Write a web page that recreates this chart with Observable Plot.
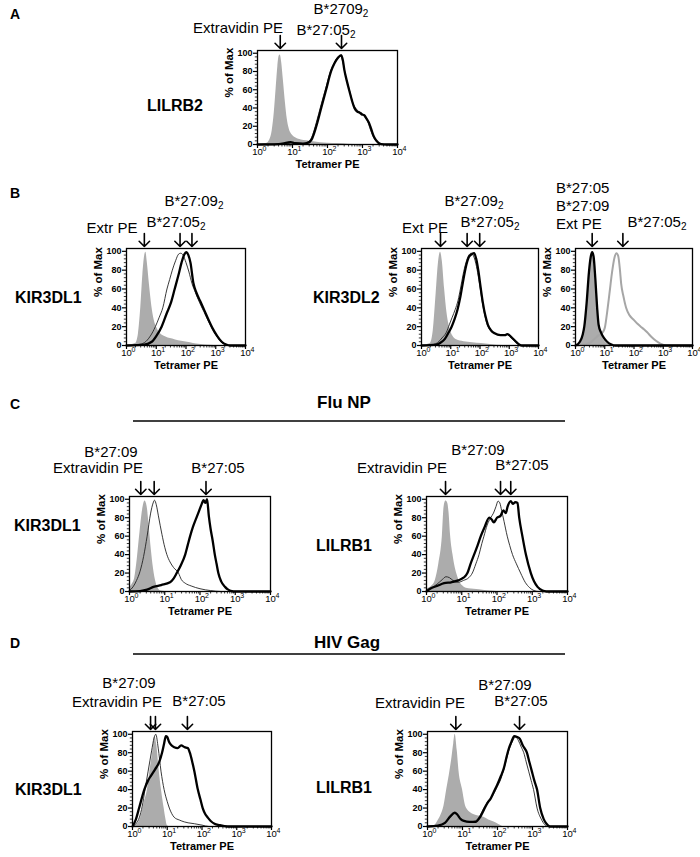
<!DOCTYPE html>
<html><head><meta charset="utf-8">
<script src="https://cdn.jsdelivr.net/npm/d3@7"></script>
<script src="https://cdn.jsdelivr.net/npm/@observablehq/plot@0.6"></script>
<style>
body{margin:0;background:#fff;}
#root{position:relative;width:700px;height:857px;overflow:hidden;background:#fff;font-family:"Liberation Sans",Arial,Helvetica,sans-serif;}
#root svg{position:absolute;}
</style></head><body><div id="root"></div>
<script>
// ---------- axis ticks ----------
const xTickValues = [1, 10, 100, 1000, 10000];
const xTickBase = "10";
const xTickExponents = ["0", "1", "2", "3", "4"];
const yTickValues = [0, 20, 40, 60, 80, 100];

// ---------- histogram data: [log10(Tetramer PE), % of Max] ----------
// Panel A — LILRB2
const A_grey = [[0,0],[0.25,1],[0.35,5],[0.42,15],[0.48,35],[0.53,60],[0.58,85],[0.62,97],[0.65,98],[0.69,90],[0.74,70],[0.8,45],[0.85,28],[0.9,18],[1.0,10],[1.1,7],[1.25,5],[1.4,4],[1.6,3],[1.8,2],[2.0,1.5],[2.3,1],[2.6,0.3],[3.0,0],[4,0]];
const A_thick = [[0,0],[0.6,0.5],[0.85,2],[0.95,2.5],[1.05,1.5],[1.3,1],[1.45,2],[1.54,5],[1.68,20],[1.82,40],[1.96,60],[2.1,80],[2.2,89],[2.3,95],[2.39,98],[2.44,92],[2.48,82],[2.55,70],[2.63,58],[2.7,48],[2.77,40],[2.85,36],[2.91,35],[2.98,33],[3.05,32],[3.12,28],[3.18,24],[3.24,18],[3.31,10],[3.38,5],[3.45,2],[3.53,0.5],[3.7,0],[4,0]];
const A_thin = [[0,0],[0.8,1],[1.0,2],[1.3,1],[1.45,3],[1.55,8],[1.68,24],[1.82,44],[1.96,63],[2.1,82],[2.2,90],[2.3,96],[2.37,97],[2.44,90],[2.5,78],[2.58,66],[2.65,56],[2.72,46],[2.8,40],[2.9,36],[3.0,34],[3.07,30],[3.15,25],[3.22,17],[3.3,9],[3.38,4],[3.46,1],[3.6,0],[4,0]];
const A_arrows = [0.65, 2.4];

// Panel B — KIR3DL1
const B1_grey = [[0,0],[0.3,2],[0.4,12],[0.48,40],[0.55,75],[0.61,95],[0.65,99],[0.7,88],[0.77,65],[0.85,42],[0.93,27],[1.03,18],[1.13,13],[1.25,10],[1.4,8],[1.55,7],[1.75,5],[1.95,4],[2.15,3],[2.35,1.5],[2.65,0.5],[2.95,0],[4,0]];
const B1_thin = [[0,0],[0.4,1],[0.6,3],[0.8,10],[0.97,20],[1.1,30],[1.22,40],[1.36,60],[1.45,70],[1.54,80],[1.65,90],[1.75,97],[1.82,98],[1.9,96],[2.0,88],[2.1,78],[2.2,66],[2.32,56],[2.45,46],[2.6,36],[2.75,26],[2.88,18],[3.05,9],[3.2,3],[3.35,1],[3.5,0],[4,0]];
const B1_thick = [[0,0],[0.6,1],[0.85,4],[1.0,10],[1.18,20],[1.35,34],[1.5,46],[1.62,60],[1.74,74],[1.85,88],[1.95,97],[2.02,99],[2.08,96],[2.15,88],[2.25,66],[2.35,56],[2.48,47],[2.62,37],[2.76,27],[2.88,19],[3.05,10],[3.2,4],[3.35,1],[3.5,0],[4,0]];
const B1_arrows = [0.6, 1.8, 2.2];

// Panel B — KIR3DL2
const B2_grey = [[0,0],[0.3,2],[0.4,15],[0.5,55],[0.58,88],[0.65,99],[0.71,90],[0.79,60],[0.87,35],[0.97,18],[1.07,10],[1.2,6],[1.45,4],[1.75,3],[2.05,2],[2.35,1],[2.8,0],[4,0]];
const B2_thin = [[0,0],[0.4,1],[0.55,3],[0.7,8],[0.85,14],[0.95,22],[1.05,30],[1.15,38],[1.25,48],[1.33,60],[1.42,75],[1.52,88],[1.62,96],[1.7,98],[1.78,95],[1.88,84],[1.96,70],[2.02,58],[2.1,42],[2.18,30],[2.25,22],[2.36,16],[2.5,13],[2.7,11],[2.85,11],[2.93,12],[3.0,10],[3.1,7],[3.2,4],[3.3,1.5],[3.4,0],[4,0]];
const B2_thick = [[0,0],[0.5,1],[0.65,3],[0.8,7],[0.93,14],[1.03,20],[1.13,28],[1.23,38],[1.33,52],[1.42,68],[1.52,84],[1.62,94],[1.72,97],[1.8,98],[1.87,92],[1.95,78],[2.02,62],[2.1,45],[2.18,32],[2.27,22],[2.38,16],[2.5,13],[2.7,11],[2.85,11],[2.93,12],[3.0,11],[3.1,8],[3.2,5],[3.3,2],[3.42,0],[4,0]];
const B2_arrows = [0.65, 1.56, 1.99];

// Panel B — KIR3DL2, monomers (black) vs B*27:05 dimer (grey line)
const B3_grey = [[0,0],[0.15,2],[0.25,8],[0.35,30],[0.45,70],[0.53,95],[0.57,98],[0.63,88],[0.7,60],[0.77,32],[0.85,15],[0.95,7],[1.05,3],[1.2,1],[1.4,0],[4,0]];
const B3_black = [[0,0],[0.15,4],[0.25,12],[0.3,20],[0.38,45],[0.46,78],[0.52,94],[0.57,99],[0.62,94],[0.68,70],[0.74,40],[0.79,22],[0.87,14],[0.97,8],[1.08,4],[1.23,1],[1.35,0],[4,0]];
const B3_dimer = [[0,0],[0.3,1],[0.5,3],[0.65,7],[0.8,11],[0.9,13],[0.97,16],[1.01,20],[1.08,35],[1.16,55],[1.25,78],[1.33,93],[1.4,98],[1.46,95],[1.52,80],[1.56,66],[1.64,52],[1.73,40],[1.85,32],[2.0,27],[2.12,23],[2.23,20],[2.35,17],[2.45,14],[2.6,9],[2.75,5],[2.9,2],[3.1,0],[4,0]];
const B3_arrows = [0.57, 1.62];

// Panel C — Flu NP, KIR3DL1
const C1_grey = [[0,4],[0.08,8],[0.15,15],[0.22,35],[0.3,65],[0.37,88],[0.44,98],[0.5,92],[0.56,70],[0.62,45],[0.68,25],[0.75,10],[0.82,3],[0.9,0.5],[1.0,0],[4,0]];
const C1_thin = [[0,1],[0.1,5],[0.2,12],[0.3,22],[0.4,38],[0.5,60],[0.6,85],[0.67,96],[0.71,99],[0.76,94],[0.82,82],[0.92,62],[1.0,48],[1.06,40],[1.15,32],[1.25,26],[1.39,20],[1.47,13],[1.58,9],[1.75,6],[2.0,3],[2.3,1],[2.6,0],[4,0]];
const C1_thick = [[0,0],[0.3,0.5],[0.5,2],[0.68,5],[0.9,7],[1.15,10],[1.25,14],[1.34,20],[1.45,28],[1.58,40],[1.65,50],[1.72,60],[1.8,70],[1.9,80],[1.98,88],[2.05,95],[2.1,99],[2.15,96],[2.2,100],[2.25,82],[2.3,68],[2.36,55],[2.42,40],[2.47,30],[2.52,20],[2.6,11],[2.71,5],[2.8,2],[2.9,0.5],[3.0,0],[4,0]];
const C1_arrows = [0.32, 0.7, 2.17];

// Panel C — Flu NP, LILRB1
const C2_grey = [[0,3],[0.15,6],[0.25,12],[0.35,30],[0.45,60],[0.5,92],[0.55,98],[0.6,96],[0.64,85],[0.68,62],[0.75,40],[0.82,25],[0.87,18],[0.95,10],[1.06,5],[1.2,3],[1.5,2],[1.8,0.5],[2.0,0],[4,0]];
const C2_thin = [[0,0],[0.15,4],[0.3,8],[0.45,13],[0.55,16],[0.65,15],[0.75,12],[0.9,10],[1.05,12],[1.2,15],[1.3,20],[1.4,30],[1.49,40],[1.57,52],[1.63,60],[1.72,72],[1.82,80],[1.9,85],[1.97,92],[2.03,98],[2.08,96],[2.13,88],[2.2,76],[2.29,60],[2.36,50],[2.44,40],[2.55,30],[2.67,20],[2.8,10],[2.93,4],[3.05,1],[3.2,0],[4,0]];
const C2_thick = [[0,0],[0.1,3],[0.3,6],[0.5,9],[0.7,10],[0.9,12],[1.05,15],[1.16,20],[1.25,30],[1.35,40],[1.45,50],[1.54,60],[1.65,70],[1.78,80],[1.85,78],[1.91,75],[2.0,80],[2.1,82],[2.18,88],[2.25,85],[2.3,92],[2.39,98],[2.45,95],[2.52,97],[2.58,96],[2.63,80],[2.72,60],[2.82,40],[2.96,20],[3.05,11],[3.15,5],[3.29,1],[3.4,0],[4,0]];
const C2_arrows = [0.54, 2.1, 2.39];

// Panel D — HIV Gag, KIR3DL1
const D1_grey = [[0,0],[0.15,3],[0.24,10],[0.33,25],[0.43,40],[0.5,60],[0.58,80],[0.64,98],[0.7,88],[0.77,60],[0.84,38],[0.91,20],[0.96,8],[1.0,1],[1.05,0],[4,0]];
const D1_thin = [[0,0],[0.1,3],[0.2,10],[0.28,22],[0.36,40],[0.45,60],[0.55,82],[0.62,96],[0.67,100],[0.74,85],[0.82,60],[0.91,40],[1.0,27],[1.06,20],[1.2,10],[1.35,7],[1.49,5],[1.6,4],[1.78,3],[2.0,1.5],[2.2,0],[4,0]];
const D1_thick = [[0,0],[0.1,8],[0.19,20],[0.34,40],[0.45,50],[0.53,55],[0.65,62],[0.77,70],[0.85,80],[0.91,90],[0.96,98],[1.0,97],[1.05,92],[1.12,88],[1.2,86],[1.3,85],[1.4,88],[1.5,86],[1.59,85],[1.65,80],[1.72,70],[1.78,60],[1.88,40],[1.95,30],[2.02,20],[2.1,13],[2.16,10],[2.25,6],[2.36,3],[2.5,1.5],[2.74,0],[4,0]];
const D1_arrows = [0.52, 0.66, 1.58];

// Panel D — HIV Gag, LILRB1
const D2_grey = [[0,0],[0.2,1],[0.28,5],[0.38,12],[0.47,22],[0.55,40],[0.62,55],[0.7,75],[0.75,90],[0.79,100],[0.85,82],[0.9,60],[1.0,40],[1.09,22],[1.23,15],[1.4,12],[1.61,10],[1.75,7],[1.9,5],[2.05,2],[2.18,0],[4,0]];
const D2_thin = [[0,0],[0.3,1],[0.5,4],[0.65,10],[0.78,14],[0.85,13],[0.95,8],[1.04,6],[1.2,5],[1.37,6],[1.5,12],[1.61,20],[1.72,27],[1.8,30],[1.9,36],[1.99,43],[2.1,52],[2.18,62],[2.25,72],[2.32,82],[2.4,90],[2.46,95],[2.52,97],[2.6,93],[2.68,86],[2.75,80],[2.82,70],[2.89,60],[2.96,50],[3.03,40],[3.13,20],[3.25,8],[3.35,2],[3.45,0],[4,0]];
const D2_thick = [[0,0],[0.3,1],[0.5,4],[0.65,11],[0.78,15],[0.85,13],[0.95,8],[1.04,6],[1.2,5],[1.37,5],[1.5,10],[1.61,18],[1.72,26],[1.8,30],[1.9,38],[1.99,45],[2.1,55],[2.18,63],[2.25,74],[2.32,84],[2.4,92],[2.48,98],[2.56,97],[2.64,95],[2.72,88],[2.84,80],[2.91,70],[2.98,60],[3.05,50],[3.13,40],[3.22,20],[3.32,8],[3.4,3],[3.5,0],[4,0]];
const D2_arrows = [0.81, 2.63];

// ---------- text ----------
const panelLetters = [["A",10,19],["B",10,198],["C",10,409],["D",10,648]];
const receptorNames = [["LILRB2",147,111],["KIR3DL1",15,303],["KIR3DL2",313,303],["KIR3DL1",14,531],["LILRB1",316,551],["KIR3DL1",15,795],["LILRB1",316,793]];
const sectionTitles = [["Flu NP",344,408,421],["HIV Gag",347,648,654]];
// [text, subscript, x, baseline, anchor]
const arrowLabels = [
  ["B*2709","2",341,14,"middle"],["Extravidin PE","",238,33,"middle"],["B*27:05","2",326,35,"middle"],
  ["B*27:09","2",194,206,"middle"],["Extr PE","",112,233,"middle"],["B*27:05","2",176,227,"middle"],
  ["B*27:09","2",474,206,"middle"],["Ext PE","",425,233,"middle"],["B*27:05","2",490,227,"middle"],
  ["B*27:05","",556,193,"start"],["B*27:09","",556,211,"start"],["Ext PE","",556,229,"start"],["B*27:05","2",657,227,"middle"],
  ["B*27:09","",111,457,"middle"],["Extravidin PE","",98,473,"middle"],["B*27:05","",218,473,"middle"],
  ["B*27:09","",478,455,"middle"],["Extravidin PE","",402,473,"middle"],["B*27:05","",522,470,"middle"],
  ["B*27:09","",129,688,"middle"],["Extravidin PE","",117,707,"middle"],["B*27:05","",199,706,"middle"],
  ["B*27:09","",505,690,"middle"],["Extravidin PE","",420,708,"middle"],["B*27:05","",521,706,"middle"]
];

// ---------- styles ----------
const FILL = "#acacac", BLACK = "#000", THIN = "#222", LIGHT = "#a6a6a6";
const FONT = "'Liberation Sans', Arial, Helvetica, sans-serif";
const thick = d => ({data: d, color: BLACK, width: 2.3});
const thin = d => ({data: d, color: THIN, width: 0.9});

const panels = [
  {frame: [257, 397, 50, 144], fills: [A_grey], lines: [thin(A_thin), thick(A_thick)], arrows: A_arrows},
  {frame: [126, 245, 248, 345], fills: [B1_grey], lines: [thin(B1_thin), thick(B1_thick)], arrows: B1_arrows},
  {frame: [421, 538, 248, 345], fills: [B2_grey], lines: [thin(B2_thin), thick(B2_thick)], arrows: B2_arrows},
  {frame: [575, 692, 248, 345], fills: [B3_grey], lines: [{data: B3_dimer, color: LIGHT, width: 2}, thick(B3_black)], arrows: B3_arrows},
  {frame: [129, 270, 496, 591], fills: [C1_grey], lines: [thin(C1_thin), thick(C1_thick)], arrows: C1_arrows},
  {frame: [426, 567, 496, 591], fills: [C2_grey], lines: [thin(C2_thin), thick(C2_thick)], arrows: C2_arrows},
  {frame: [132, 271, 731, 826], fills: [D1_grey], lines: [thin(D1_thin), thick(D1_thick)], arrows: D1_arrows},
  {frame: [427, 567, 731, 826], fills: [D2_grey], lines: [thin(D2_thin), thick(D2_thick)], arrows: D2_arrows}
];

const root = document.getElementById("root");
const xMinor = [];
for (let k = 0; k < 4; k++) for (let m = 2; m <= 9; m++) xMinor.push(m * 10 ** k);
const yMinor = d3.range(0, 104, 4).filter(v => v % 20 !== 0);

const X = d => 10 ** d[0], Y = d => d[1];

for (const p of panels) {
  const [fx0, fx1, fy0, fy1] = p.frame;
  const ml = 48, mr = 8, mt = 22, mb = 36;
  const marks = [];
  for (const f of p.fills) marks.push(Plot.areaY(f, {x: X, y: Y, fill: FILL, curve: "monotone-x"}));
  for (const l of p.lines) marks.push(Plot.lineY(l.data, {x: X, y: Y, stroke: l.color, strokeWidth: l.width, curve: "monotone-x", strokeLinejoin: "round"}));
  marks.push(Plot.frame({stroke: "#000", strokeWidth: 1.3}));
  // minor ticks (outward)
  marks.push(Plot.ruleY(yMinor, {y: d => d, x1: 1, x2: 1, insetLeft: -2.2, stroke: "#000", strokeWidth: 0.8}));
  marks.push(Plot.ruleX(xMinor, {x: d => d, y1: 0, y2: 0, insetBottom: -2.5, stroke: "#000", strokeWidth: 0.8}));
  // major y ticks with labels
  marks.push(Plot.axisY({ticks: yTickValues, tickSize: 4, tickPadding: 1, fontSize: 9, fontWeight: "bold", label: null, strokeWidth: 1.2}));
  // major x ticks; labels as 10 + superscript exponent
  marks.push(Plot.ruleX(xTickValues, {x: d => d, y1: 0, y2: 0, insetBottom: -4, stroke: "#000", strokeWidth: 1.2}));
  marks.push(Plot.text(xTickValues, {x: d => d, text: () => xTickBase, frameAnchor: "bottom", dy: 10, fontSize: 9.5}));
  marks.push(Plot.text(xTickValues, {x: d => d, text: (d, i) => xTickExponents[i], frameAnchor: "bottom", dx: 7, dy: 6, fontSize: 7}));
  // axis titles
  marks.push(Plot.text(["% of Max"], {frameAnchor: "left", dx: -28, rotate: -90, fontSize: 11.5, fontWeight: "bold"}));
  marks.push(Plot.text(["Tetramer PE"], {frameAnchor: "bottom", dy: 23, fontSize: 11, fontWeight: "bold"}));
  // arrows above the frame
  marks.push(Plot.vector(p.arrows, {x: d => 10 ** d, frameAnchor: "top", dy: -2, length: 13, rotate: 180, anchor: "end",
    shape: "arrow", r: 7, stroke: "#000", strokeWidth: 1.6}));
  const svg = Plot.plot({
    width: ml + (fx1 - fx0) + mr, height: mt + (fy1 - fy0) + mb,
    marginLeft: ml, marginRight: mr, marginTop: mt, marginBottom: mb,
    x: {type: "log", domain: [1, 1e4], axis: null},
    y: {domain: [0, 103]},
    style: {fontFamily: FONT, background: "transparent", overflow: "visible", color: "#000"},
    marks
  });
  svg.style.position = "absolute";
  svg.style.left = (fx0 - ml) + "px";
  svg.style.top = (fy0 - mt) + "px";
  svg.style.maxWidth = "none";
  root.appendChild(svg);
}

// ---------- overlay text ----------
const ov = d3.select(root).append("svg")
  .attr("width", 700).attr("height", 857)
  .style("left", "0px").style("top", "0px").style("pointer-events", "none")
  .attr("font-family", FONT);

ov.selectAll("text.letter").data(panelLetters).join("text").attr("class", "letter")
  .attr("x", d => d[1]).attr("y", d => d[2]).attr("font-size", 14).attr("font-weight", "bold").text(d => d[0]);

ov.selectAll("text.rec").data(receptorNames).join("text").attr("class", "rec")
  .attr("x", d => d[1]).attr("y", d => d[2]).attr("font-size", 16).attr("font-weight", "bold").text(d => d[0]);

for (const [t, cx, y, ly] of sectionTitles) {
  ov.append("text").attr("x", cx).attr("y", y).attr("text-anchor", "middle")
    .attr("font-size", 17).attr("font-weight", "bold").text(t);
  ov.append("line").attr("x1", 133).attr("x2", 565).attr("y1", ly).attr("y2", ly)
    .attr("stroke", "#000").attr("stroke-width", 1.4);
}

for (const [t, sub, x, y, anchor] of arrowLabels) {
  const el = ov.append("text").attr("x", x).attr("y", y).attr("text-anchor", anchor).attr("font-size", 15);
  el.append("tspan").text(t);
  if (sub) el.append("tspan").attr("font-size", 10).attr("dy", 3).text(sub);
}
</script></body></html>
